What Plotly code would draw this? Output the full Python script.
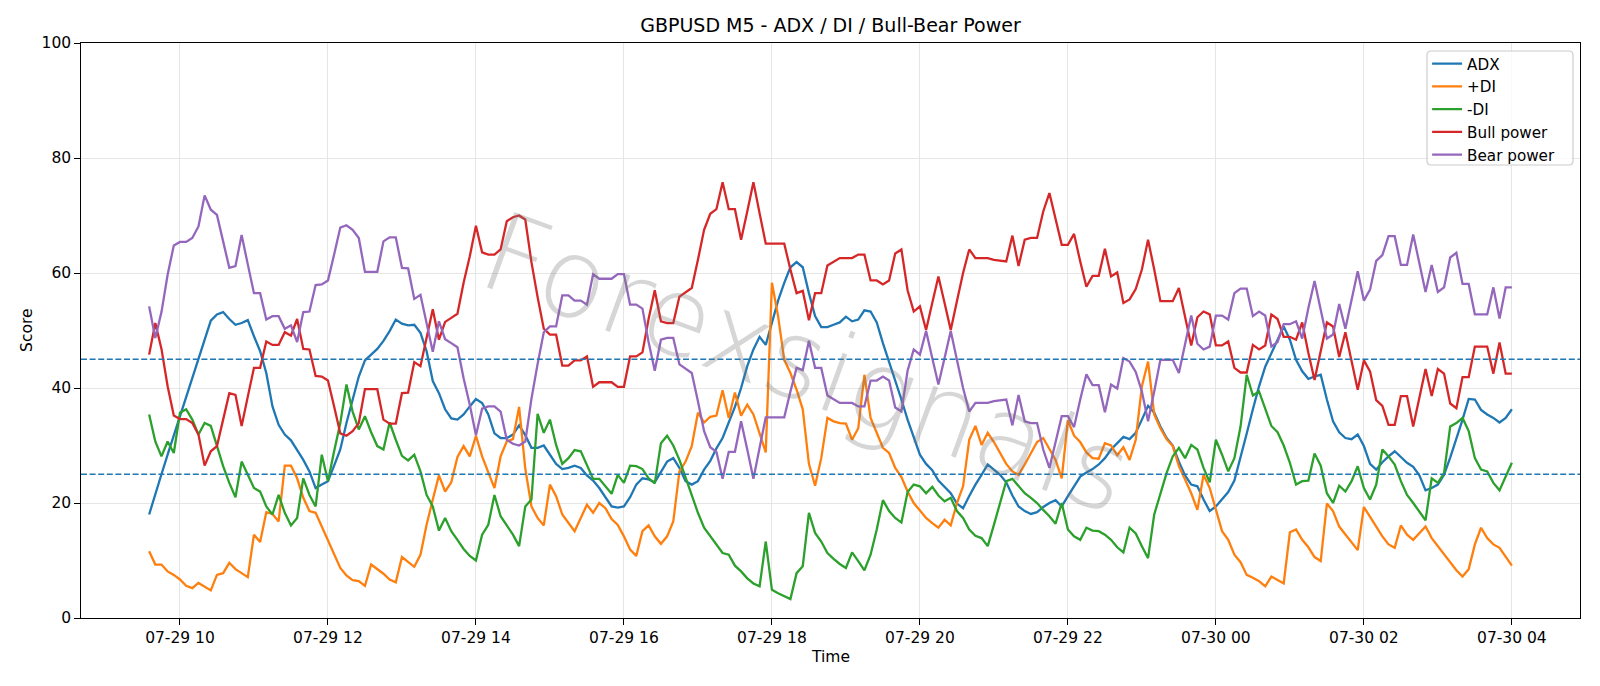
import pandas as pd
import plotly.graph_objects as go

start_time = "2025-07-29 09:35"

adx = [
    18.0, 21.7, 25.0, 28.4, 31.7, 35.1, 38.4, 41.7, 45.0, 48.4,
    51.7, 52.8, 53.2, 52.0, 51.0, 51.3, 51.8, 49.0, 46.4, 42.6,
    36.8, 33.6, 31.9, 30.9, 29.3, 27.5, 25.5, 22.6, 23.2, 23.8,
    26.5, 29.3, 33.9, 37.9, 42.0, 44.8, 45.8, 46.8, 48.2, 49.9,
    51.9, 51.2, 50.9, 51.0, 49.6, 46.4, 41.2, 39.1, 36.3, 34.7,
    34.5, 35.4, 36.8, 38.1, 37.4, 35.4, 32.1, 31.3, 31.3, 31.9,
    33.5, 31.8, 29.6, 29.6, 30.0, 28.4, 26.8, 25.9, 26.1, 26.5,
    26.1, 24.8, 23.9, 22.6, 20.9, 19.4, 19.2, 19.4, 21.0, 23.2,
    24.3, 24.1, 23.6, 25.3, 27.2, 27.8, 26.1, 23.8, 23.2, 23.8,
    25.8, 27.3, 29.5, 31.3, 33.9, 36.7, 40.0, 43.8, 46.7, 48.9,
    47.5, 51.2, 55.2, 58.3, 61.0, 61.9, 61.0, 56.5, 52.5, 50.6,
    50.6, 51.0, 51.4, 52.4, 51.6, 51.9, 53.5, 53.3, 51.4, 47.8,
    44.6, 41.2, 38.0, 34.5, 31.3, 28.4, 26.8, 25.7, 23.9, 22.8,
    21.7, 19.9, 19.1, 21.2, 23.2, 24.9, 26.7, 25.8, 24.9, 23.6,
    21.3, 19.4, 18.6, 18.1, 18.4, 19.3, 20.0, 20.5, 19.4, 21.2,
    23.0, 24.6, 25.3, 25.9, 26.7, 27.8, 29.3, 30.4, 31.5, 31.1,
    32.2, 34.5, 36.9, 35.7, 33.3, 31.3, 30.0, 27.2, 24.8, 23.2,
    22.9, 20.6, 18.6, 19.4, 20.6, 21.9, 23.9, 27.8, 32.1, 36.3,
    40.3, 43.7, 46.1, 48.4, 50.7, 48.4, 44.9, 42.9, 41.6, 42.0,
    42.3, 38.0, 34.2, 32.3, 31.3, 31.1, 31.9, 29.9, 26.8, 25.8,
    27.1, 28.1, 29.0, 28.0, 27.0, 26.3, 24.8, 22.2, 22.6, 23.2,
    24.9, 27.9, 31.1, 34.5, 38.1, 38.0, 36.2, 35.4, 34.8, 34.0,
    34.8, 36.3,
]

plus_di = [
    11.6, 9.3, 9.3, 8.1, 7.5, 6.7, 5.6, 5.2, 6.1, 5.5,
    4.8, 7.5, 7.8, 9.6, 8.5, 7.8, 7.1, 14.5, 13.2, 18.4,
    18.1, 16.8, 26.5, 26.5, 24.3, 20.9, 18.6, 18.3, 15.9, 13.3,
    11.0, 8.7, 7.4, 6.6, 6.4, 5.6, 9.3, 8.5, 7.7, 6.7,
    6.2, 10.6, 9.7, 8.9, 11.0, 16.2, 20.6, 24.8, 22.0, 23.6,
    28.0, 29.9, 28.1, 31.7, 28.1, 25.5, 22.6, 28.1, 30.7, 31.1,
    36.7, 26.0, 19.4, 17.4, 16.1, 23.2, 21.2, 18.0, 16.5, 15.1,
    17.4, 19.7, 18.3, 20.0, 19.1, 17.2, 16.2, 14.2, 11.9, 10.8,
    15.1, 16.1, 14.2, 12.9, 14.2, 16.8, 25.5, 27.2, 29.9, 35.7,
    34.0, 35.0, 35.2, 39.6, 34.8, 39.2, 35.2, 37.1, 35.4, 32.1,
    28.8, 58.3, 52.5, 44.9, 42.6, 39.7, 36.3, 26.8, 23.0, 27.8,
    34.8, 34.2, 33.9, 33.8, 31.0, 33.0, 42.3, 34.8, 32.1, 29.6,
    28.7, 26.1, 24.5, 22.0, 20.0, 18.7, 17.4, 16.5, 15.7, 17.1,
    16.1, 20.0, 22.9, 31.0, 33.4, 30.1, 32.2, 30.6, 28.7, 26.8,
    25.5, 24.9, 26.7, 28.7, 30.6, 31.3, 29.4, 27.5, 24.3, 34.4,
    31.7, 30.6, 28.8, 27.8, 27.7, 30.4, 30.0, 28.3, 29.7, 27.5,
    31.0, 40.3, 44.6, 35.4, 33.0, 31.1, 29.9, 26.4, 24.1, 21.7,
    18.8, 24.9, 22.6, 19.0, 15.1, 13.6, 11.0, 9.7, 7.5, 7.0,
    6.4, 5.5, 7.2, 6.6, 6.0, 14.9, 15.4, 13.6, 12.3, 10.6,
    9.9, 19.9, 18.6, 15.9, 14.5, 13.0, 11.8, 19.3, 17.6, 15.8,
    14.2, 12.8, 12.2, 16.1, 14.5, 13.6, 14.7, 15.9, 13.9, 12.5,
    11.2, 9.6, 8.3, 7.2, 8.5, 12.8, 15.7, 13.9, 12.8, 12.2,
    10.7, 9.1,
]

minus_di = [
    35.4, 30.7, 28.1, 30.7, 28.7, 35.7, 36.3, 34.5, 31.9, 33.9,
    33.4, 29.9, 26.4, 23.5, 21.0, 27.2, 24.9, 22.6, 22.0, 19.4,
    18.0, 21.4, 18.3, 16.1, 17.4, 24.3, 21.4, 19.4, 28.4, 23.8,
    29.0, 33.9, 40.6, 35.9, 32.8, 35.1, 32.3, 29.9, 29.3, 34.0,
    31.0, 28.2, 27.4, 28.4, 25.5, 21.4, 19.4, 15.2, 17.4, 15.1,
    13.6, 12.0, 10.8, 10.0, 14.5, 16.2, 21.4, 17.7, 16.1, 14.5,
    12.5, 19.4, 20.6, 35.5, 32.2, 34.5, 30.1, 26.8, 27.8, 29.2,
    29.0, 26.7, 24.2, 24.2, 22.9, 21.6, 24.9, 23.5, 26.5, 26.4,
    25.9, 24.3, 23.4, 30.4, 31.7, 30.0, 27.5, 24.5, 21.4, 18.3,
    15.7, 14.3, 12.8, 11.3, 11.0, 9.1, 8.1, 6.9, 6.0, 5.5,
    13.3, 4.9, 4.3, 3.8, 3.3, 7.8, 9.0, 18.3, 14.8, 13.3,
    11.3, 10.3, 9.4, 8.7, 11.4, 9.9, 8.3, 11.0, 15.4, 20.5,
    18.6, 17.4, 16.6, 21.9, 23.2, 22.9, 21.7, 22.8, 21.3, 20.3,
    20.9, 18.6, 17.4, 15.4, 14.3, 13.9, 12.5, 16.2, 20.0, 23.8,
    24.2, 22.9, 21.7, 20.9, 20.0, 18.8, 17.7, 16.4, 20.0, 15.4,
    14.2, 13.6, 15.7, 15.2, 15.1, 14.5, 13.6, 12.3, 11.4, 15.7,
    14.7, 12.5, 10.4, 18.0, 21.7, 25.2, 28.1, 29.6, 27.8, 30.1,
    29.3, 26.1, 23.6, 31.0, 28.4, 25.5, 27.8, 33.3, 42.3, 38.7,
    39.4, 36.2, 33.4, 32.3, 30.0, 27.0, 23.2, 23.8, 23.9, 28.6,
    26.5, 21.7, 20.0, 23.0, 22.0, 23.8, 26.4, 22.6, 20.6, 23.2,
    29.3, 28.1, 26.7, 23.8, 21.4, 20.0, 18.6, 17.0, 24.3, 23.5,
    25.2, 33.3, 33.9, 34.8, 32.5, 27.8, 25.8, 25.5, 23.5, 22.2,
    24.6, 27.0,
]

bull_power = [
    45.8, 51.3, 46.8, 40.3, 35.2, 34.6, 34.6, 33.9, 31.9, 26.5,
    29.0, 29.9, 34.5, 39.1, 38.8, 33.4, 38.5, 43.5, 43.5, 48.1,
    47.5, 47.5, 49.7, 49.1, 52.0, 46.8, 46.7, 42.1, 42.0, 41.3,
    36.8, 32.1, 31.7, 32.5, 33.9, 39.8, 39.8, 39.8, 34.5, 33.8,
    33.8, 39.1, 39.2, 44.5, 43.8, 48.7, 53.7, 48.4, 51.5, 52.2,
    52.9, 58.3, 62.9, 68.2, 63.6, 63.2, 63.2, 64.1, 69.0, 69.7,
    70.0, 69.3, 61.9, 55.8, 50.3, 49.3, 49.3, 43.9, 43.9, 44.8,
    44.8, 45.5, 40.2, 41.0, 41.0, 41.0, 40.2, 40.2, 45.5, 45.5,
    46.2, 52.0, 57.0, 51.6, 51.3, 51.3, 55.9, 56.6, 57.4, 62.3,
    67.5, 70.3, 71.1, 75.8, 71.1, 71.1, 65.8, 70.7, 75.8, 70.4,
    65.1, 65.1, 65.1, 65.1, 60.6, 56.5, 56.9, 51.8, 56.5, 56.5,
    61.3, 62.0, 62.6, 62.6, 62.6, 63.2, 63.2, 58.7, 58.7, 58.0,
    58.7, 63.4, 64.1, 57.0, 53.3, 54.2, 50.1, 54.8, 59.4, 54.8,
    50.1, 55.1, 60.0, 64.1, 62.6, 62.6, 62.6, 62.3, 62.2, 62.0,
    66.5, 61.2, 65.8, 66.1, 66.1, 70.7, 73.9, 69.4, 64.9, 64.9,
    66.8, 62.0, 57.6, 59.5, 59.5, 64.2, 59.4, 60.1, 54.8, 55.4,
    57.2, 60.6, 65.8, 60.6, 55.1, 55.1, 55.1, 57.4, 52.5, 47.4,
    52.3, 53.3, 52.8, 47.4, 47.4, 48.1, 43.5, 42.7, 42.7, 47.5,
    46.7, 47.4, 52.8, 52.0, 48.9, 48.9, 48.4, 51.4, 46.1, 41.4,
    46.4, 51.4, 50.7, 45.4, 49.7, 44.6, 39.7, 44.8, 42.9, 37.9,
    36.9, 33.6, 33.6, 38.6, 38.6, 33.3, 38.3, 43.3, 38.6, 43.3,
    42.5, 37.3, 36.5, 41.9, 41.9, 47.2, 47.2, 47.2, 42.5, 47.9,
    42.5, 42.5,
]

bear_power = [
    54.2, 48.7, 53.2, 59.7, 64.8, 65.4, 65.4, 66.1, 68.1, 73.5,
    71.0, 70.1, 65.5, 60.9, 61.2, 66.6, 61.5, 56.5, 56.5, 51.9,
    52.5, 52.5, 50.3, 50.9, 48.0, 53.2, 53.3, 57.9, 58.0, 58.7,
    63.2, 67.9, 68.3, 67.5, 66.1, 60.2, 60.2, 60.2, 65.5, 66.2,
    66.2, 60.9, 60.8, 55.5, 56.2, 51.3, 46.3, 51.6, 48.5, 47.8,
    47.1, 41.7, 37.1, 31.8, 36.4, 36.8, 36.8, 35.9, 31.0, 30.3,
    30.0, 30.7, 38.1, 44.2, 49.7, 50.7, 50.7, 56.1, 56.1, 55.2,
    55.2, 54.5, 59.8, 59.0, 59.0, 59.0, 59.8, 59.8, 54.5, 54.5,
    53.8, 48.0, 43.0, 48.4, 48.7, 48.7, 44.1, 43.4, 42.6, 37.7,
    32.5, 29.7, 28.9, 24.2, 28.9, 28.9, 34.2, 29.3, 24.2, 29.6,
    34.9, 34.9, 34.9, 34.9, 39.4, 43.5, 43.1, 48.2, 43.5, 43.5,
    38.7, 38.0, 37.4, 37.4, 37.4, 36.8, 36.8, 41.3, 41.3, 42.0,
    41.3, 36.6, 35.9, 43.0, 46.7, 45.8, 49.9, 45.2, 40.6, 45.2,
    49.9, 44.9, 40.0, 35.9, 37.4, 37.4, 37.4, 37.7, 37.8, 38.0,
    33.5, 38.8, 34.2, 33.9, 33.9, 29.3, 26.1, 30.6, 35.1, 35.1,
    33.2, 38.0, 42.4, 40.5, 40.5, 35.8, 40.6, 39.9, 45.2, 44.6,
    42.8, 39.4, 34.2, 39.4, 44.9, 44.9, 44.9, 42.6, 47.5, 52.6,
    47.7, 46.7, 47.2, 52.6, 52.6, 51.9, 56.5, 57.3, 57.3, 52.5,
    53.3, 52.6, 47.2, 48.0, 51.1, 51.1, 51.6, 48.6, 53.9, 58.6,
    53.6, 48.6, 49.3, 54.6, 50.3, 55.4, 60.3, 55.2, 57.1, 62.1,
    63.1, 66.4, 66.4, 61.4, 61.4, 66.7, 61.7, 56.7, 61.4, 56.7,
    57.5, 62.7, 63.5, 58.1, 58.1, 52.8, 52.8, 52.8, 57.5, 52.1,
    57.5, 57.5,
]

strong_trend_level = 45
weak_trend_level = 25

times = pd.date_range(start_time, periods=len(adx), freq="5min")

FONT = "DejaVu Sans"
series = [
    ("ADX", adx, "#1f77b4"),
    ("+DI", plus_di, "#ff7f0e"),
    ("-DI", minus_di, "#2ca02c"),
    ("Bull power", bull_power, "#d62728"),
    ("Bear power", bear_power, "#9467bd"),
]

fig = go.Figure()
for name, ys, color in series:
    fig.add_trace(go.Scatter(
        x=times, y=ys, mode="lines", name=name,
        line=dict(color=color, width=2.3),
        hoverinfo="skip",
    ))

for lvl in (strong_trend_level, weak_trend_level):
    fig.add_shape(type="line", xref="paper", x0=0, x1=1, yref="y", y0=lvl, y1=lvl,
                  line=dict(color="#1f77b4", width=1.6, dash="6px,2.6px"), layer="above")

# plot area in pixels
PL, PR, PT, PB = 81, 1580, 43, 618


def px_to_paper(px, py):
    return (px - PL) / (PR - PL), (PB - py) / (PB - PT)


def P(px, py):
    x, y = px_to_paper(px, py)
    return f"{x:.5f},{y:.5f}"


# rounded legend frame
bx0, bx1, by0, by1, rad = 1427, 1573, 51, 165, 4
path = (f"M {P(bx0 + rad, by0)} L {P(bx1 - rad, by0)} Q {P(bx1, by0)} {P(bx1, by0 + rad)} "
        f"L {P(bx1, by1 - rad)} Q {P(bx1, by1)} {P(bx1 - rad, by1)} "
        f"L {P(bx0 + rad, by1)} Q {P(bx0, by1)} {P(bx0, by1 - rad)} "
        f"L {P(bx0, by0 + rad)} Q {P(bx0, by0)} {P(bx0 + rad, by0)} Z")
fig.add_shape(type="path", path=path, xref="paper", yref="paper",
              fillcolor="rgba(255,255,255,0.8)", line=dict(color="#cccccc", width=1.2),
              layer="above")

axis_common = dict(
    showgrid=True, gridcolor="#e6e6e6", gridwidth=1.2,
    showline=True, mirror=True, linecolor="black", linewidth=1.2,
    ticks="outside", ticklen=5.6, tickwidth=1.2, tickcolor="black",
    tickfont=dict(family=FONT, size=15.5, color="black"),
    zeroline=False,
)

fig.update_layout(
    width=1600, height=686,
    margin=dict(l=PL, r=1600 - PR, t=PT, b=686 - PB),
    paper_bgcolor="white", plot_bgcolor="white",
    font=dict(family=FONT, size=15.5, color="black"),
    title=dict(text="GBPUSD M5 - ADX / DI / Bull-Bear Power", x=0.5, xref="paper",
               y=1 - 25.5 / 686, yref="container", yanchor="middle", xanchor="center",
               font=dict(family=FONT, size=19, color="black")),
    xaxis=dict(type="date", range=["2025-07-29 08:39:45", "2025-07-30 04:55:15"],
               tickformat="%m-%d %H", dtick=7200000, tick0="2025-07-29 10:00", **axis_common),
    yaxis=dict(range=[0, 100], dtick=20, **axis_common),
    legend=dict(x=0.898, y=0.9927, xanchor="left", yanchor="top",
                bgcolor="rgba(0,0,0,0)", borderwidth=0,
                font=dict(family=FONT, size=15.2, color="black"), itemwidth=30,
                tracegroupgap=0),
    showlegend=True,
    annotations=[
        dict(text="Score", xref="paper", yref="paper", x=-0.0364, y=0.5, textangle=-90,
             showarrow=False, xanchor="center", yanchor="middle",
             font=dict(family=FONT, size=15.5, color="black")),
        dict(text="Time", xref="paper", yref="paper", x=0.5, y=-0.068,
             showarrow=False, xanchor="center", yanchor="middle",
             font=dict(family=FONT, size=15.5, color="black")),
        dict(text="Forexsignals", xref="paper", yref="paper", x=0.4837, y=0.443,
             textangle=20, showarrow=False, xanchor="center", yanchor="middle",
             font=dict(family=FONT, size=110, color="rgba(120,120,120,0.3)", weight=200)),
    ],
)

fig.write_html("out.html")
